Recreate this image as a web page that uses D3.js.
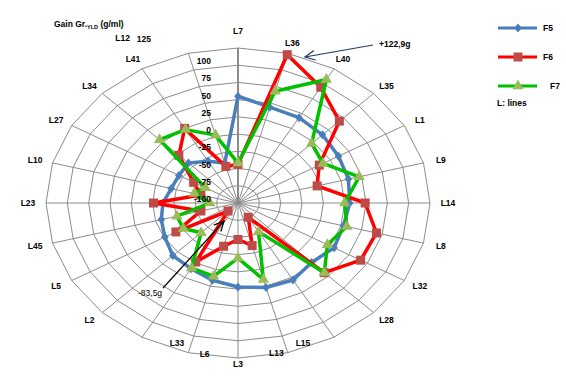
<!DOCTYPE html>
<html>
<head>
<meta charset="utf-8">
<script src="https://cdn.jsdelivr.net/npm/d3@7"></script>
<style>
  body { margin: 0; background: #fff; }
  text { font-family: "Liberation Sans", Arial, sans-serif; font-weight: bold; font-size: 8.5px; fill: #000; }
</style>
</head>
<body>
<div id="chart"></div>
<script>
// width and height
var w = 566;
var h = 377;

// centre and radii of the (stretched) radar
var cx = 238;
var cy = 203;
var rx = 192;
var ry = 155;

var categories = ["L7", "L36", "L40", "L35", "L1", "L9", "L14", "L8", "L32", "L28", "L15", "L13",
  "L3", "L6", "L33", "L2", "L5", "L45", "L23", "L10", "L27", "L34", "L41", "L12"];

var f5 = [55, 44, 43, 40, 36, 34, 31, 28, 30, 22, 29, 27,
  22, 16, 10, 8, -1, -7, -12, -19, -20, -18, -30, -40];
var f6 = [-44, 122.9, 94, 68, 10, -4, 49, 68, 66, 43, -76, -36,
  -47, -35, -1, -83.5, -16, -55, -1, -55, -40, -2, 25, -45];
var f7 = [-42, 68, 107, 22, 15, 47, 25, 32, 21, 43, -52, 15,
  -20, 10, 9, -39, -26, -26, -67, -47, -56, 30, 23, 2];

var ticks = [-100, -75, -50, -25, 0, 25, 50, 75, 100, 125];
var seriesNames = ["F5", "F6", "F7"];

// label nudges where the original labels were moved by hand
var labelNudge = {
  "L7": [0, -6], "L12": [-61, -5], "L6": [21, -9], "L3": [0, -5],
  "L13": [-16, -10], "L15": [-40, -4], "L33": [44, -4]
};

var r = d3.scaleLinear().domain([-100, 125]).range([0, 1]);
var angle = d3.scaleLinear().domain([0, categories.length]).range([0, 2 * Math.PI]);

function px(i, v) { return cx + rx * r(v) * Math.sin(angle(i)); }
function py(i, v) { return cy - ry * r(v) * Math.cos(angle(i)); }

var svg = d3.select("#chart")
  .append("svg")
  .attr("width", w)
  .attr("height", h);

//--------------------------- grid ---------------------------//

var grid = svg.append("g");

// rings (polygons through the spokes)
grid.selectAll("polygon")
  .data(ticks.slice(1))
  .enter()
  .append("polygon")
  .attr("points", function(t) {
    return categories.map(function(c, i) {
      return px(i, t) + "," + py(i, t);
    }).join(" ");
  })
  .attr("fill", "none")
  .attr("stroke", "#8c8c8c")
  .attr("stroke-width", 1);

// spokes
grid.selectAll("line")
  .data(categories)
  .enter()
  .append("line")
  .attr("x1", cx)
  .attr("y1", cy)
  .attr("x2", function(d, i) { return px(i, 125); })
  .attr("y2", function(d, i) { return py(i, 125); })
  .attr("stroke", "#8c8c8c")
  .attr("stroke-width", function(d, i) { return i == 0 ? 2 : 1; });

// category labels
svg.selectAll("text.cat")
  .data(categories)
  .enter()
  .append("text")
  .attr("class", "cat")
  .attr("text-anchor", "middle")
  .attr("dy", "0.35em")
  .attr("x", function(d, i) {
    var n = labelNudge[d] || [0, 0];
    return cx + 210 * Math.sin(angle(i)) + n[0];
  })
  .attr("y", function(d, i) {
    var n = labelNudge[d] || [0, 0];
    return cy - 166 * Math.cos(angle(i)) + n[1];
  })
  .text(function(d) { return d; });

//--------------------------- series ---------------------------//

var line = d3.line()
  .x(function(d, i) { return px(i, d); })
  .y(function(d, i) { return py(i, d); })
  .curve(d3.curveLinearClosed);

function drawSeries(data, lineColor, drawMarker) {
  svg.append("path")
    .datum(data)
    .attr("d", line)
    .attr("fill", "none")
    .attr("stroke", lineColor)
    .attr("stroke-width", 3.5)
    .attr("stroke-linejoin", "round");
  data.forEach(function(v, i) {
    drawMarker(svg, px(i, v), py(i, v));
  });
}

function diamond(g, x, y) {
  g.append("path")
    .attr("d", "M0,-4.5L3.8,0L0,4.5L-3.8,0Z")
    .attr("transform", "translate(" + x + "," + y + ")")
    .attr("fill", "#4a7ebb");
}
function square(g, x, y) {
  g.append("rect")
    .attr("x", x - 4.5)
    .attr("y", y - 4.5)
    .attr("width", 9)
    .attr("height", 9)
    .attr("fill", "#be4b48");
}
function triangle(g, x, y) {
  g.append("path")
    .attr("d", d3.symbol().type(d3.symbolTriangle).size(55))
    .attr("transform", "translate(" + x + "," + y + ")")
    .attr("fill", "#9bbb59");
}

drawSeries(f5, "#4a7ebb", diamond);
drawSeries(f6, "#ff0000", square);
drawSeries(f7, "#00c000", triangle);

// value labels along the first axis (on top of the lines, as in the original)
svg.selectAll("text.tick")
  .data(ticks)
  .enter()
  .append("text")
  .attr("class", "tick")
  .attr("text-anchor", "end")
  .attr("dy", "0.35em")
  .attr("x", function(d) { return d == 125 ? 151 : 211; })
  .attr("y", function(d) { return py(0, d) - (d == 125 ? 9 : 4); })
  .text(function(d) { return d; });

//--------------------------- legend ---------------------------//

var legendColors = ["#4a7ebb", "#ff0000", "#00c000"];
var legendMarkers = [diamond, square, triangle];
var legendY = [28, 57, 86];

seriesNames.forEach(function(name, i) {
  svg.append("line")
    .attr("x1", 498)
    .attr("x2", 537)
    .attr("y1", legendY[i])
    .attr("y2", legendY[i])
    .attr("stroke", legendColors[i])
    .attr("stroke-width", 3);
  legendMarkers[i](svg, 518, legendY[i]);
  svg.append("text")
    .attr("x", i == 2 ? 550 : 543)
    .attr("y", legendY[i])
    .attr("dy", "0.35em")
    .text(name);
});

svg.append("text")
  .attr("x", 497)
  .attr("y", 103)
  .attr("dy", "0.35em")
  .text("L: lines");

//--------------------------- title and notes ---------------------------//

var title = svg.append("text")
  .attr("x", 54)
  .attr("y", 27);
title.append("tspan").text("Gain Gr.");
title.append("tspan").attr("dy", 2).style("font-size", "5.5px").text("YLD");
title.append("tspan").attr("dy", -2).text(" (g/ml)");

function arrow(x1, y1, x2, y2, color) {
  var a = Math.atan2(y2 - y1, x2 - x1);
  var len = 11;
  var spread = 0.45;
  svg.append("line")
    .attr("x1", x1).attr("y1", y1)
    .attr("x2", x2).attr("y2", y2)
    .attr("stroke", color)
    .attr("stroke-width", 1.2);
  svg.append("path")
    .attr("d", "M" + (x2 - len * Math.cos(a - spread)) + "," + (y2 - len * Math.sin(a - spread)) +
      "L" + x2 + "," + y2 +
      "L" + (x2 - len * Math.cos(a + spread)) + "," + (y2 - len * Math.sin(a + spread)))
    .attr("fill", "none")
    .attr("stroke", color)
    .attr("stroke-width", 1.2);
}

arrow(373, 45, 305, 57, "#1f3864");
svg.append("text")
  .attr("x", 379)
  .attr("y", 44)
  .attr("dy", "0.35em")
  .text("+122,9g");

arrow(163, 288, 224, 221, "#000");
svg.append("text")
  .attr("x", 138)
  .attr("y", 293)
  .attr("dy", "0.35em")
  .style("font-weight", "normal")
  .text("-83,5g");
</script>
</body>
</html>
